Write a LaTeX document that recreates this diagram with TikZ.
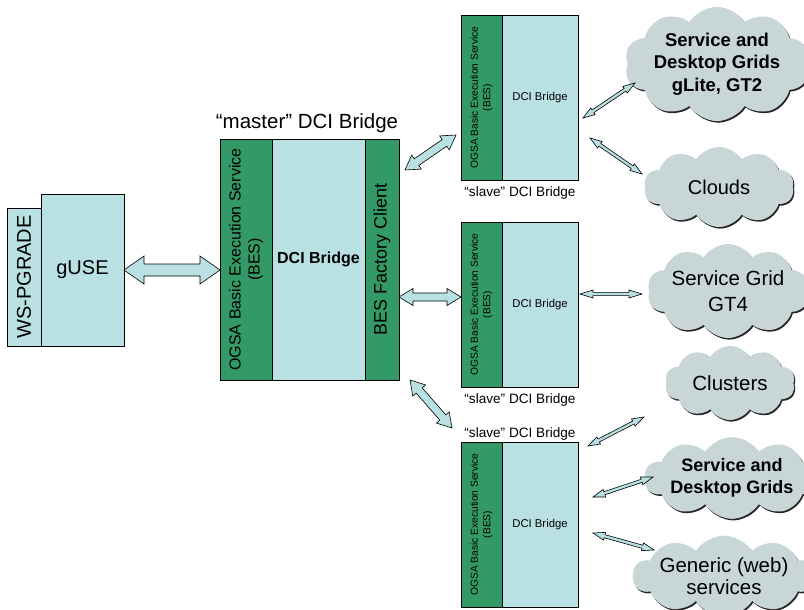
\documentclass[tikz,border=0pt]{standalone}
\usepackage{fontspec}
\setmainfont{Liberation Sans}
\usetikzlibrary{calc,shapes.symbols,shadows}
\definecolor{bgreen}{HTML}{339966}
\definecolor{lblue}{HTML}{B9E0E3}
\definecolor{cgray}{HTML}{C8D6D8}
% #1 start, #2 end, #3 shaft half width, #4 head half width, #5 head length
\newcommand\dblarr[5]{%
  \coordinate (da1) at ($(#1)!#5!(#2)$);
  \coordinate (da2) at ($(#2)!#5!(#1)$);
  \path[arr] (#1) -- ($(da1)!#4!90:(#2)$) -- ($(da1)!#3!90:(#2)$)
    -- ($(da2)!#3!-90:(#1)$) -- ($(da2)!#4!-90:(#1)$) -- (#2)
    -- ($(da2)!#4!90:(#1)$) -- ($(da2)!#3!90:(#1)$)
    -- ($(da1)!#3!-90:(#2)$) -- ($(da1)!#4!-90:(#2)$) -- cycle;
}
\begin{document}
\begin{tikzpicture}[x=1pt,y=-1pt,
  box/.style={draw=black, line width=0.8pt, inner sep=0pt, outer sep=0pt, align=center},
  gbox/.style={box, fill=bgreen},
  bbox/.style={box, fill=lblue},
  cloudnode/.style={cloud, cloud puffs=10, cloud puff arc=115, cloud ignores aspect,
     fill=cgray, inner sep=0pt, align=center,
     drop shadow={shadow xshift=1.2pt, shadow yshift=-1.6pt, fill=black!85, opacity=1}},
  arr/.style={fill=lblue, draw=black, line width=0.6pt, line join=miter},
  lbl/.style={inner sep=0pt, align=center}
]
\useasboundingbox (0,0) rectangle (804,610);
\fill[white] (0,0) rectangle (804,610);

% WS-PGRADE / gUSE
\node[bbox, rotate=90, minimum width=138pt, minimum height=34pt,
      font=\fontsize{20}{24}\selectfont] (ws) at (24,277) {WS-PGRADE};
\node[bbox, minimum width=83pt, minimum height=152pt,
      font=\fontsize{20}{24}\selectfont] (guse) at (82.5,270) {gUSE};

% master DCI Bridge
\node[lbl, font=\fontsize{20.5}{24}\selectfont] (mlabel) at (307,123) {“master” DCI Bridge};
\node[gbox, rotate=90, minimum width=241pt, minimum height=52pt,
      font=\fontsize{16}{19}\selectfont] (mbes) at (246,259.5)
      {OGSA Basic Execution Service\\(BES)};
\node[bbox, minimum width=93pt, minimum height=241pt,
      font=\bfseries\fontsize{16}{19}\selectfont] (mdci) at (318.5,259.5) {DCI Bridge};
\node[gbox, rotate=90, minimum width=241pt, minimum height=34pt,
      font=\fontsize{18}{21}\selectfont] (mfac) at (382,259.5) {BES Factory Client};

% slave bridges
\foreach \n/\cy in {1/97.5, 2/304.5, 3/524.5}{
  \node[gbox, rotate=90, minimum width=165pt, minimum height=41pt,
        font=\fontsize{10.2}{12.5}\selectfont] (s\n bes) at (481.5,\cy)
        {OGSA Basic Execution Service\\(BES)};
  \node[bbox, minimum width=76pt, minimum height=165pt,
        font=\fontsize{11.3}{13}\selectfont] (s\n dci) at (540,\cy) {DCI Bridge};
}
\node[lbl, font=\fontsize{13.6}{16}\selectfont] (s1lbl) at (520,193) {“slave” DCI Bridge};
\node[lbl, font=\fontsize{13.6}{16}\selectfont] (s2lbl) at (520,400) {“slave” DCI Bridge};
\node[lbl, font=\fontsize{13.6}{16}\selectfont] (s3lbl) at (520,434) {“slave” DCI Bridge};

% clouds
\node[cloudnode, minimum width=176pt, minimum height=108pt,
      font=\bfseries\fontsize{18.5}{22.5}\selectfont] (c1) at (717,64)
      {Service and\\Desktop Grids\\gLite, GT2};
\node[cloudnode, minimum width=150pt, minimum height=80pt,
      font=\fontsize{20}{24}\selectfont] (c2) at (719,187) {Clouds};
\node[cloudnode, minimum width=158pt, minimum height=94pt,
      font=\fontsize{20.5}{26}\selectfont] (c3) at (728,291) {Service Grid\\GT4};
\node[cloudnode, minimum width=130pt, minimum height=74pt,
      font=\fontsize{20.5}{24}\selectfont] (c4) at (730,383) {Clusters};
\node[cloudnode, minimum width=144pt, minimum height=80pt,
      font=\bfseries\fontsize{18}{22}\selectfont] (c5) at (732,478)
      {Service and\\Desktop Grids};
\node[cloudnode, minimum width=164pt, minimum height=80pt,
      font=\fontsize{20.5}{22}\selectfont] (c6) at (724,576)
      {Generic (web)\\services};

% arrow end points
\coordinate (a0s) at (guse.east);
\coordinate (a0e) at (mbes.north |- guse.east);
\coordinate (a1s) at (405,170);  \coordinate (a1e) at (456,135);
\coordinate (a2s) at (mfac.south |- 0,297); \coordinate (a2e) at (s2bes.north |- 0,297);
\coordinate (a3s) at (410,380);  \coordinate (a3e) at (452,428);
\coordinate (b1s) at (583,118);  \coordinate (b1e) at (635,83);
\coordinate (b2s) at (590,138);  \coordinate (b2e) at (642,174);
\coordinate (b3s) at (580,294);  \coordinate (b3e) at (642,294);
\coordinate (b4s) at (588,446);  \coordinate (b4e) at (644,417);
\coordinate (b5s) at (593,497);  \coordinate (b5e) at (653,477);
\coordinate (b6s) at (593,533);  \coordinate (b6e) at (654,550);

\dblarr{a0s}{a0e}{6pt}{14pt}{20pt}
\dblarr{a1s}{a1e}{4pt}{8.5pt}{14pt}
\dblarr{a2s}{a2e}{4pt}{8.5pt}{14pt}
\dblarr{a3s}{a3e}{4pt}{8.5pt}{14pt}
\dblarr{b1s}{b1e}{1.6pt}{4pt}{12pt}
\dblarr{b2s}{b2e}{1.6pt}{4pt}{12pt}
\dblarr{b3s}{b3e}{1.6pt}{4pt}{13pt}
\dblarr{b4s}{b4e}{1.6pt}{4pt}{12pt}
\dblarr{b5s}{b5e}{1.6pt}{4pt}{12pt}
\dblarr{b6s}{b6e}{1.6pt}{4pt}{12pt}
\end{tikzpicture}
\end{document}
